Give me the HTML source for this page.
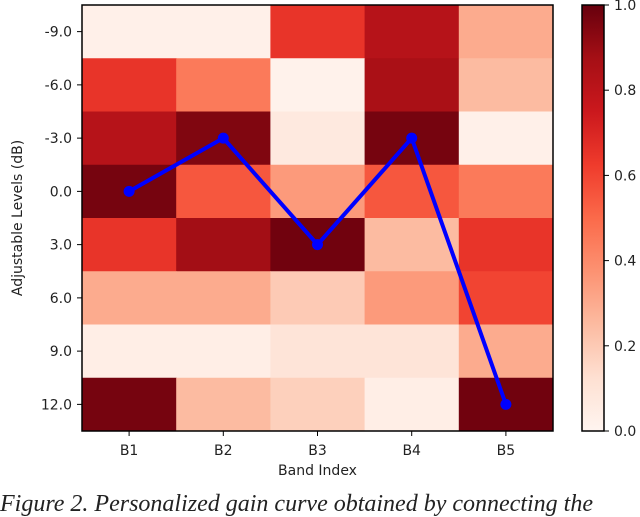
<!DOCTYPE html>
<html><head><meta charset="utf-8"><style>
html,body{margin:0;padding:0;background:#fff;width:640px;height:509px;overflow:hidden}
svg text{font-family:"DejaVu Sans","Liberation Sans",sans-serif;font-size:14px;fill:#222}
.cap{position:absolute;left:0;top:492px;font:italic 24px/24px "Liberation Serif",serif;white-space:nowrap;color:#222}
</style></head><body>
<svg id="chart" width="640" height="509" style="position:absolute;left:0;top:0">
<defs><linearGradient id="cb" x1="0" y1="1" x2="0" y2="0">
<stop offset="0" stop-color="#fff5f0"/><stop offset="0.125" stop-color="#fee0d2"/><stop offset="0.25" stop-color="#fcbba1"/><stop offset="0.375" stop-color="#fc9272"/><stop offset="0.5" stop-color="#fb6a4a"/><stop offset="0.625" stop-color="#ef3b2c"/><stop offset="0.75" stop-color="#cb181d"/><stop offset="0.875" stop-color="#a50f15"/><stop offset="1" stop-color="#67000d"/>
</linearGradient></defs>
<g id="cells"></g><g id="axes"></g><g id="line"></g><g id="cbar"></g>
</svg>
<div class="cap">Figure 2. Personalized gain curve obtained by connecting the</div>
<script>
const bands=["B1","B2","B3","B4","B5"];
const levels=[-9,-6,-3,0,3,6,9,12];
const row_m9=[0.03,0.03,0.65,0.82,0.3];
const row_m6=[0.65,0.45,0.02,0.86,0.25];
const row_m3=[0.82,0.95,0.07,0.97,0.03];
const row_0=[0.97,0.55,0.35,0.55,0.45];
const row_3=[0.65,0.88,0.98,0.25,0.65];
const row_6=[0.3,0.3,0.2,0.35,0.6];
const row_9=[0.04,0.04,0.1,0.1,0.3];
const row_12=[0.97,0.25,0.18,0.04,0.98];
const gainCurve=[0,-3,3,-3,12];
const cbTicks=[0,0.2,0.4,0.6,0.8,1.0];
const rows=[row_m9,row_m6,row_m3,row_0,row_3,row_6,row_9,row_12];
const L=82,R=553,T=5,B=431,cw=(R-L)/bands.length,rh=(B-T)/levels.length;
const xc=i=>L+cw*(i+0.5);
const yOf=v=>T+rh*(levels.indexOf(v)+0.5);
const stops=["#fff5f0","#fee0d2","#fcbba1","#fc9272","#fb6a4a","#ef3b2c","#cb181d","#a50f15","#67000d"];
function h2r(h){return[1,3,5].map(k=>parseInt(h.substr(k,2),16));}
function cmap(v){v=Math.max(0,Math.min(1,v));const p=v*8,i=Math.min(7,Math.floor(p)),f=p-i;const a=h2r(stops[i]),b=h2r(stops[i+1]);return"rgb("+a.map((x,k)=>Math.round(x+(b[k]-x)*f)).join(",")+")";}
const NS="http://www.w3.org/2000/svg";
function mk(p,t,at){const e=document.createElementNS(NS,t);for(const k in at)e.setAttribute(k,at[k]);p.appendChild(e);return e;}
const cells=document.getElementById("cells"),axes=document.getElementById("axes"),ln=document.getElementById("line"),cb=document.getElementById("cbar");
rows.forEach((r,j)=>r.forEach((v,i)=>{
 const e=mk(cells,"rect",{x:L+cw*i,y:T+rh*j,width:cw+0.5,height:rh+0.5,fill:cmap(v)});
 
 
}));
const fr=mk(axes,"rect",{x:L,y:T,width:R-L,height:B-T,fill:"none",stroke:"#000","stroke-width":1.5});


levels.forEach(v=>{const y=yOf(v);mk(axes,"line",{x1:L-5,x2:L,y1:y,y2:y,stroke:"#000"});
 const t=mk(axes,"text",{x:L-10,y:y+5,"text-anchor":"end"});t.textContent=v.toFixed(1);
 
 });
bands.forEach((b,i)=>{const x=xc(i);mk(axes,"line",{x1:x,x2:x,y1:B,y2:B+5,stroke:"#000"});
 const t=mk(axes,"text",{x:x,y:B+24,"text-anchor":"middle"});t.textContent=b;
 
 });
const xt=mk(axes,"text",{x:(L+R)/2,y:B+44,"text-anchor":"middle"});xt.textContent="Band Index";


const yt=mk(axes,"text",{x:0,y:0,"text-anchor":"middle",transform:"translate(22,"+((T+B)/2)+") rotate(-90)"});yt.textContent="Adjustable Levels (dB)";


const pts=gainCurve.map((v,i)=>[xc(i),yOf(v)]);
const pl=mk(ln,"polyline",{points:pts.map(p=>p.join(",")).join(" "),fill:"none",stroke:"#0000ff","stroke-width":4,"stroke-linejoin":"round"});


pts.forEach(p=>{const c=mk(ln,"circle",{cx:p[0],cy:p[1],r:5.5,fill:"#0000ff"});
 
 });
const cx0=582,cx1=604;
const cr=mk(cb,"rect",{x:cx0,y:T,width:cx1-cx0,height:B-T,fill:"url(#cb)",stroke:"#000","stroke-width":1.5});


cbTicks.forEach(v=>{const y=B-(B-T)*v;mk(cb,"line",{x1:cx1,x2:cx1+5,y1:y,y2:y,stroke:"#000"});
 const t=mk(cb,"text",{x:cx1+10,y:y+5});t.textContent=v.toFixed(1);
 
 });
</script>
</body></html>
